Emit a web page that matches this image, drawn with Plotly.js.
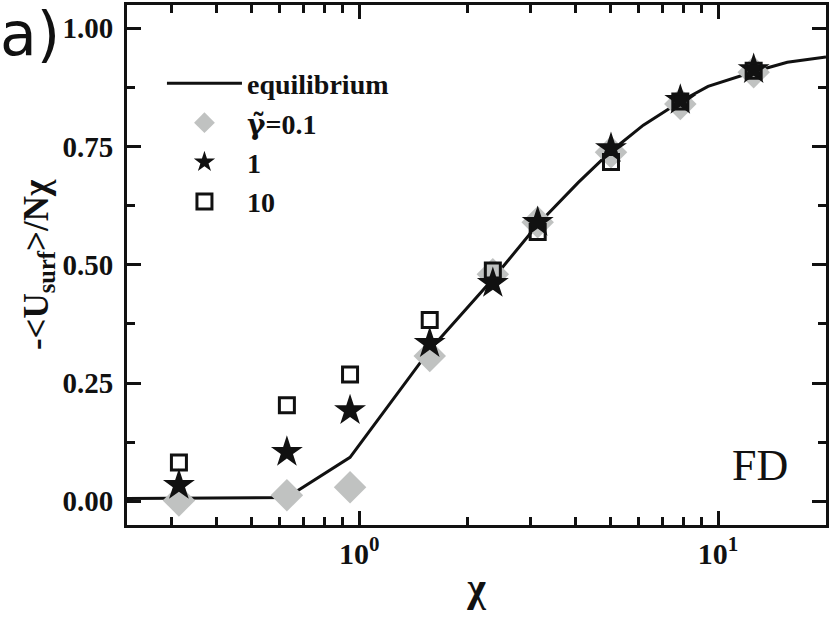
<!DOCTYPE html>
<html>
<head>
<meta charset="utf-8">
<script src="https://cdn.plot.ly/plotly-3.0.1.min.js"></script>
<style>
  body { margin: 0; background: #fff; }
  #chart { width: 830px; height: 624px; }
</style>
</head>
<body>
<div id="chart"></div>
<script>
// chi values of the simulation points
const CHI = [0.314, 0.628, 0.942, 1.571, 2.356, 3.142, 5.03, 7.85, 12.57];

// -<U_surf>/N chi for each gamma
const GAMMA_01 = [0.002, 0.013, 0.030, 0.307, 0.480, 0.590, 0.738, 0.840, 0.907];
const GAMMA_1 = [0.034, 0.104, 0.192, 0.334, 0.461, 0.590, 0.746, 0.848, 0.913];
const GAMMA_10 = [0.082, 0.203, 0.268, 0.383, 0.488, 0.569, 0.717, 0.845, 0.910];

// equilibrium curve
const EQ_X = [0.225, 0.314, 0.628, 0.942, 1.571, 2.356, 3.142, 4.08, 5.03, 6.19, 7.85, 9.38, 12.57, 15.6, 20];
const EQ_Y = [0.006, 0.007, 0.008, 0.093, 0.320, 0.470, 0.585, 0.674, 0.740, 0.795, 0.845, 0.877, 0.908, 0.928, 0.939];

// axis ticks
const X_MAJOR = [1, 10];
const X_MAJOR_TEXT = ["<b>10<sup>0</sup></b>", "<b>10<sup>1</sup></b>"];
const X_MINOR = [0.3, 0.4, 0.5, 0.6, 0.7, 0.8, 0.9, 2, 3, 4, 5, 6, 7, 8, 9];
const Y_MAJOR = [0, 0.25, 0.5, 0.75, 1];
const Y_MAJOR_TEXT = ["<b>0.00</b>", "<b>0.25</b>", "<b>0.50</b>", "<b>0.75</b>", "<b>1.00</b>"];
const Y_MINOR = [0.125, 0.375, 0.625, 0.875];

const SERIF = "Liberation Serif";

const data = [
  {
    x: EQ_X, y: EQ_Y, name: "<b>equilibrium</b>",
    mode: "lines", type: "scatter",
    line: { color: "#111", width: 3 }
  },
  {
    x: CHI, y: GAMMA_01, name: "<b><span style=\"font-family:DejaVu Serif\">γ\u0303</span>=0.1</b>",
    mode: "markers", type: "scatter",
    marker: { symbol: "diamond", size: 25, color: "#c0c2c1" }
  },
  {
    x: CHI, y: GAMMA_1, name: "<b>1</b>",
    mode: "markers", type: "scatter",
    marker: { symbol: "star", size: 24, color: "#111" }
  },
  {
    x: CHI, y: GAMMA_10, name: "<b>10</b>",
    mode: "markers", type: "scatter",
    marker: { symbol: "square-open", size: 15, color: "#111", line: { width: 3 } }
  }
];

const layout = {
  width: 830, height: 624,
  margin: { l: 127, r: 4, t: 5, b: 99 },
  paper_bgcolor: "#fff", plot_bgcolor: "#fff",
  font: { family: SERIF, color: "#111", size: 20 },
  showlegend: true,
  legend: {
    x: 0.05, y: 0.897, xanchor: "left", yanchor: "top",
    bgcolor: "rgba(0,0,0,0)",
    font: { family: SERIF, size: 28 },
    itemwidth: 75,
    tracegroupgap: 0
  },
  xaxis: {
    type: "log",
    range: [Math.log10(0.225), Math.log10(20)],
    tickvals: X_MAJOR,
    ticktext: X_MAJOR_TEXT,
    ticks: "inside", ticklen: 14, tickwidth: 3, tickcolor: "#111",
    minor: { ticks: "inside", ticklen: 8, tickwidth: 2.5, tickcolor: "#111", tickvals: X_MINOR },
    showline: true, linewidth: 3, linecolor: "#111", mirror: "ticks",
    showgrid: false, zeroline: false,
    tickfont: { family: SERIF, size: 30 },
    title: { text: "<b>χ</b>", font: { family: SERIF, size: 40 }, standoff: 4 }
  },
  yaxis: {
    range: [-0.05, 1.049],
    tickvals: Y_MAJOR,
    ticktext: Y_MAJOR_TEXT,
    ticks: "inside", ticklen: 14, tickwidth: 3, tickcolor: "#111",
    ticklabelstandoff: 5,
    minor: { ticks: "inside", ticklen: 8, tickwidth: 2.5, tickcolor: "#111", tickvals: Y_MINOR },
    showline: true, linewidth: 3, linecolor: "#111", mirror: "ticks",
    showgrid: false, zeroline: false,
    tickfont: { family: SERIF, size: 29 },
    title: { text: "<b>-<U<sub>surf</sub>>/Nχ</b>", font: { family: SERIF, size: 35 }, standoff: 4 }
  },
  annotations: [
    {
      text: "a)", xref: "paper", yref: "paper", x: -0.185, y: 1.016,
      xanchor: "left", yanchor: "top", showarrow: false,
      font: { family: "DejaVu Sans", size: 60, color: "#111" }
    },
    {
      text: "FD", xref: "paper", yref: "paper", x: 0.906, y: 0.115,
      xanchor: "center", yanchor: "middle", showarrow: false,
      font: { family: SERIF, size: 44, color: "#111" }
    }
  ]
};

Plotly.newPlot("chart", data, layout, { displayModeBar: false });
</script>
</body>
</html>
